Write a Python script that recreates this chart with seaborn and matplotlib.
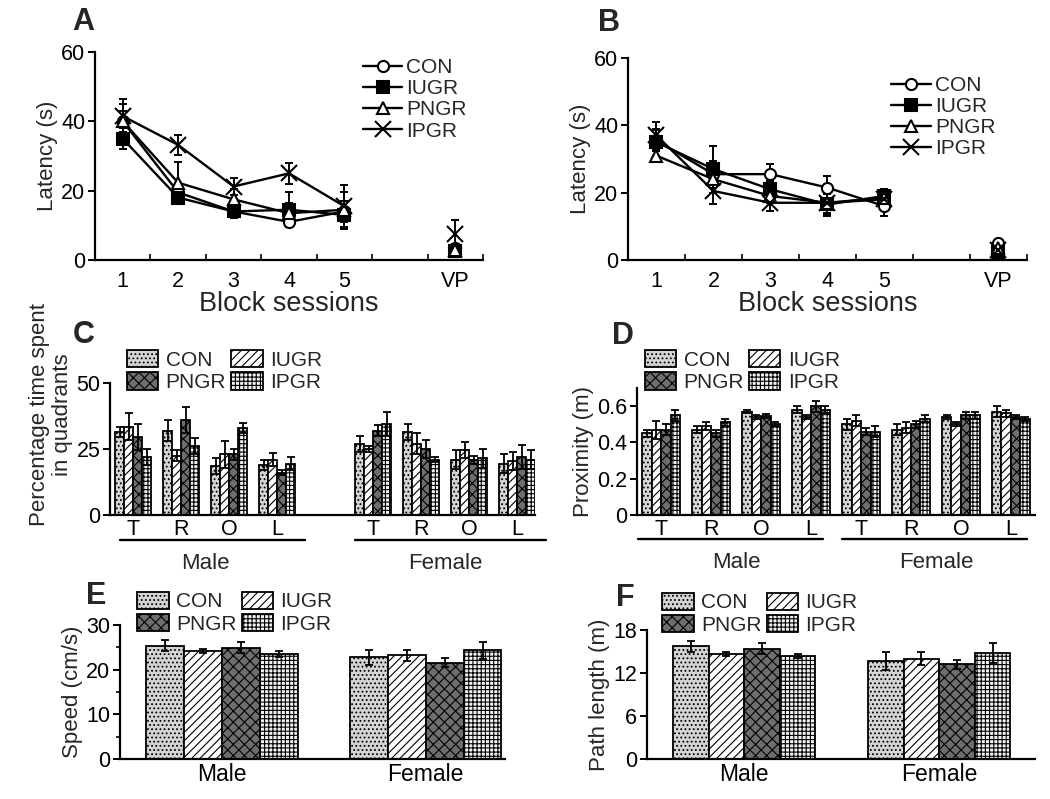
import pandas as pd
import seaborn as sns
import matplotlib.pyplot as plt
from matplotlib.patches import Patch

groups = ['CON', 'IUGR', 'PNGR', 'IPGR']

# A / B: escape latency (s) over block sessions 1-5, then visible platform (VP)
sessions = [1, 2, 3, 4, 5]
vp_pos = 7
session_ticks = ['1', '2', '3', '4', '5', 'VP']

a_lat = {'CON': [40.0, 19.5, 14.0, 11.0, 14.0],
         'IUGR': [35.0, 18.0, 14.0, 14.5, 13.0],
         'PNGR': [40.0, 22.3, 17.5, 13.5, 14.5],
         'IPGR': [41.5, 33.2, 21.2, 25.0, 15.5]}
a_err = {'CON': [3, 2, 2, 1.5, 3], 'IUGR': [3, 1.5, 2, 5, 4],
         'PNGR': [5, 6, 3, 3, 5], 'IPGR': [5, 3, 2.5, 3, 6]}
a_vp = {'CON': 3.5, 'IUGR': 2.5, 'PNGR': 3.0, 'IPGR': 7.5}
a_vp_err = {'CON': 1, 'IUGR': 1, 'PNGR': 1, 'IPGR': 4}

b_lat = {'CON': [35.5, 25.5, 25.5, 21.5, 16.0],
         'IUGR': [35.0, 27.0, 21.0, 16.5, 19.0],
         'PNGR': [31.0, 24.0, 19.0, 17.0, 18.5],
         'IPGR': [37.0, 20.5, 17.0, 17.0, 18.0]}
b_err = {'CON': [3, 4, 3, 3.5, 3], 'IUGR': [4, 7, 2.5, 3, 2],
         'PNGR': [2, 4, 2, 3, 2], 'IPGR': [4, 4, 2.5, 4, 2]}
b_vp = {'CON': 5.0, 'IUGR': 2.5, 'PNGR': 3.5, 'IPGR': 3.0}
b_vp_err = {'CON': 1, 'IUGR': 1, 'PNGR': 1, 'IPGR': 1}

# C / D: per quadrant, Male T R O L then Female T R O L
quad_cats = ['Male T', 'Male R', 'Male O', 'Male L',
             'Female T', 'Female R', 'Female O', 'Female L']
quad_letters = ['T', 'R', 'O', 'L']

c_pct = {'CON': [31.5, 32.0, 18.5, 19.0, 27.0, 31.5, 21.0, 19.5],
         'IUGR': [33.5, 22.5, 23.0, 21.0, 25.0, 27.0, 24.5, 20.5],
         'PNGR': [29.5, 36.0, 23.0, 16.0, 32.0, 25.0, 21.0, 22.0],
         'IPGR': [22.0, 26.0, 33.0, 19.5, 34.5, 21.0, 21.5, 21.0]}
c_err = {'CON': [2, 4, 3, 2, 3, 3, 3.5, 3.5],
         'IUGR': [5, 2, 5, 2.5, 1, 4, 3, 3.5],
         'PNGR': [5, 5, 2, 1, 2, 3.5, 1.5, 4.5],
         'IPGR': [3, 3, 2, 2.5, 4.5, 1, 3.5, 3.5]}

d_prox = {'CON': [0.45, 0.47, 0.57, 0.58, 0.50, 0.47, 0.54, 0.57],
          'IUGR': [0.47, 0.49, 0.54, 0.54, 0.52, 0.48, 0.50, 0.56],
          'PNGR': [0.47, 0.45, 0.545, 0.60, 0.46, 0.50, 0.55, 0.54],
          'IPGR': [0.55, 0.51, 0.50, 0.58, 0.46, 0.53, 0.55, 0.53]}
d_err = {'CON': [0.02, 0.02, 0.01, 0.02, 0.03, 0.03, 0.01, 0.03],
         'IUGR': [0.05, 0.02, 0.01, 0.01, 0.03, 0.03, 0.01, 0.02],
         'PNGR': [0.03, 0.02, 0.01, 0.03, 0.02, 0.02, 0.02, 0.01],
         'IPGR': [0.03, 0.02, 0.01, 0.02, 0.03, 0.02, 0.02, 0.01]}

# E / F: Male, Female
sexes = ['Male', 'Female']
e_speed = {'CON': [25.4, 22.8], 'IUGR': [24.2, 23.2],
           'PNGR': [24.9, 21.6], 'IPGR': [23.5, 24.4]}
e_err = {'CON': [1.3, 1.7], 'IUGR': [0.5, 1.3], 'PNGR': [1.2, 1.0], 'IPGR': [0.6, 1.9]}
f_path = {'CON': [15.7, 13.7], 'IUGR': [14.7, 14.0],
          'PNGR': [15.4, 13.2], 'IPGR': [14.4, 14.8]}
f_err = {'CON': [0.8, 1.3], 'IUGR': [0.3, 0.9], 'PNGR': [0.8, 0.6], 'IPGR': [0.3, 1.4]}

markers = {'CON': 'o', 'IUGR': 's', 'PNGR': '^', 'IPGR': 'x'}
mfc = {'CON': 'white', 'IUGR': 'black', 'PNGR': 'white', 'IPGR': 'black'}
msize = {'CON': 8, 'IUGR': 8, 'PNGR': 8, 'IPGR': 12}
face = {'CON': '#d4d4d4', 'IUGR': 'white', 'PNGR': '#6e6e6e', 'IPGR': '#f2f2f2'}
hatch = {'CON': '....', 'IUGR': '////', 'PNGR': 'xxx', 'IPGR': '++++'}

sns.set_theme(style='ticks')
plt.rcParams['font.family'] = ['Liberation Sans', 'DejaVu Sans']
plt.rcParams['font.size'] = 15
plt.rcParams['hatch.linewidth'] = 0.8
plt.rcParams['axes.linewidth'] = 1.6
for k in ['xtick.major.width', 'ytick.major.width', 'xtick.minor.width', 'ytick.minor.width']:
    plt.rcParams[k] = 1.4


def style_axes(ax):
    sns.despine(ax=ax)
    ax.tick_params(axis='both', colors='black', labelsize=15.5, length=5, direction='out', pad=2)
    for s in ax.spines.values():
        s.set_color('black')


def draw_latency(ax, lat, err, vp, vp_err, leg_anchor):
    for g in groups:
        sns.lineplot(x=sessions, y=lat[g], color='black', marker=markers[g],
                     markersize=msize[g], markerfacecolor=mfc[g], markeredgecolor='black',
                     markeredgewidth=1.5, linewidth=1.7, label=g, ax=ax, zorder=3)
        ax.errorbar(sessions, lat[g], yerr=err[g], fmt='none', ecolor='black',
                    elinewidth=1.4, capsize=3, capthick=1.4, zorder=2)
        ax.errorbar([vp_pos], [vp[g]], yerr=[vp_err[g]], fmt=markers[g], ms=msize[g],
                    mfc=mfc[g], mec='black', mew=1.5, ecolor='black',
                    elinewidth=1.4, capsize=3, capthick=1.4, zorder=3)
    ax.set_xlim(0.5, 7.5)
    ax.set_ylim(0, 60)
    ax.set_yticks([0, 20, 40, 60])
    ax.set_xticks(sessions + [vp_pos])
    ax.set_xticklabels(session_ticks)
    ax.set_xticks([1.5, 2.5, 3.5, 4.5, 5.5, 6.5, 7.5], minor=True)
    style_axes(ax)
    ax.tick_params(axis='x', which='major', length=0, pad=8)
    ax.tick_params(axis='x', which='minor', length=4, direction='in')
    ax.set_xlabel('Block sessions', fontsize=19.5, labelpad=-1)
    ax.set_ylabel('Latency (s)', fontsize=16, labelpad=2)
    ax.legend(loc='upper left', bbox_to_anchor=leg_anchor, frameon=False, fontsize=15,
              handlelength=1.9, handletextpad=0.2, labelspacing=0.1,
              borderpad=0, borderaxespad=0)


def draw_bars(ax, cats, order, vals, errs, width, leg_anchor):
    rows = []
    for g in groups:
        for c, v in zip(cats, vals[g]):
            rows.append({'cat': c, 'group': g, 'val': v})
    df = pd.DataFrame(rows)
    sns.barplot(data=df, x='cat', y='val', hue='group', order=order, hue_order=groups,
                palette=face, saturation=1, width=width, errorbar=None, legend=False,
                edgecolor='black', linewidth=1.3, ax=ax)
    for g, cont in zip(groups, ax.containers):
        xs, ys = [], []
        for bar in cont:
            bar.set_hatch(hatch[g])
            xs.append(bar.get_x() + bar.get_width() / 2)
            ys.append(bar.get_height())
        ax.errorbar(xs, ys, yerr=errs[g], fmt='none', ecolor='black',
                    elinewidth=1.3, capsize=2.8, capthick=1.3, zorder=4)
    handles = [Patch(facecolor=face[g], edgecolor='black', hatch=hatch[g], lw=1.3, label=g)
               for g in ['CON', 'PNGR', 'IUGR', 'IPGR']]
    ax.legend(handles=handles, ncol=2, loc='upper left', bbox_to_anchor=leg_anchor,
              frameon=False, fontsize=15, handlelength=1.5, handleheight=0.9,
              handletextpad=0.35, columnspacing=0.25, labelspacing=0.12,
              borderpad=0, borderaxespad=0)
    ax.set_xlabel('')
    style_axes(ax)
    ax.tick_params(axis='x', length=0, pad=3)


def group_lines(ax, spans, centers, labels):
    tr = ax.get_xaxis_transform()
    for (x0, x1), xc, lab in zip(spans, centers, labels):
        ax.plot([x0, x1], [-0.19, -0.19], transform=tr, clip_on=False, color='black', lw=1.7)
        ax.text(xc, -0.37, lab, transform=tr, ha='center', va='center', fontsize=16)


fig = plt.figure(figsize=(10.5, 7.99), dpi=100)

# A
axA = fig.add_axes([0.0905, 0.6746, 0.3695, 0.2603])
draw_latency(axA, a_lat, a_err, a_vp, a_vp_err, (0.69, 0.97))
# B
axB = fig.add_axes([0.598, 0.6746, 0.380, 0.2528])
draw_latency(axB, b_lat, b_err, b_vp, b_vp_err, (0.66, 0.91))

# C
axC = fig.add_axes([0.1048, 0.3554, 0.405, 0.1652])
draw_bars(axC, quad_cats, quad_cats[:4] + ['gap'] + quad_cats[4:], c_pct, c_err, 0.75,
          (0.04, 1.25))
axC.set_xticks(range(9))
axC.set_xticklabels(quad_letters + [''] + quad_letters)
axC.set_xlim(-0.48, 8.38)
axC.set_ylim(0, 50)
axC.set_yticks([0, 25, 50])
axC.set_ylabel('Percentage time spent\nin quadrants', fontsize=16, linespacing=1.15)
axC.yaxis.set_label_coords(-0.087, 0.76)
group_lines(axC, [(-0.27, 3.58), (4.63, 8.6)], [1.5, 6.5], sexes)

# D
axD = fig.add_axes([0.6067, 0.3554, 0.379, 0.159])
draw_bars(axD, quad_cats, quad_cats, d_prox, d_err, 0.76, (0.02, 1.3))
axD.set_xticks(range(8))
axD.set_xticklabels(quad_letters + quad_letters)
axD.set_xlim(-0.48, 7.48)
axD.set_ylim(0, 0.7)
axD.set_yticks([0, 0.2, 0.4, 0.6])
axD.set_yticklabels(['0', '0.2', '0.4', '0.6'])
axD.set_ylabel('Proximity (m)', fontsize=16, labelpad=2)
group_lines(axD, [(-0.46, 3.24), (3.62, 7.32)], [1.5, 5.5], sexes)

# E
axE = fig.add_axes([0.1143, 0.05, 0.3667, 0.1677])
draw_bars(axE, sexes, sexes, e_speed, e_err, 0.745, (0.045, 1.25))
axE.set_xlim(-0.5, 1.39)
axE.set_ylim(0, 30)
axE.set_yticks([0, 10, 20, 30])
axE.set_yticks([5, 15, 25], minor=True)
axE.tick_params(axis='y', which='minor', length=3, direction='out')
axE.tick_params(axis='x', labelsize=16.5)
axE.set_ylabel('Speed (cm/s)', fontsize=16, labelpad=2)

# F
axF = fig.add_axes([0.616, 0.05, 0.3695, 0.1615])
draw_bars(axF, sexes, sexes, f_path, f_err, 0.73, (0.04, 1.29))
axF.set_xlim(-0.5, 1.49)
axF.set_ylim(0, 18)
axF.set_yticks([0, 6, 12, 18])
axF.tick_params(axis='x', labelsize=16.5)
axF.set_ylabel('Path length (m)', fontsize=16, labelpad=2)

for lab, (x, y) in zip('ABCDEF', [(72, 7), (598, 8), (73, 320), (612, 321), (86, 581), (616, 583)]):
    fig.text(x / 1050, 1 - y / 799, lab, fontsize=22, fontweight='bold', ha='left', va='top')

fig.savefig('out.png', dpi=100)
